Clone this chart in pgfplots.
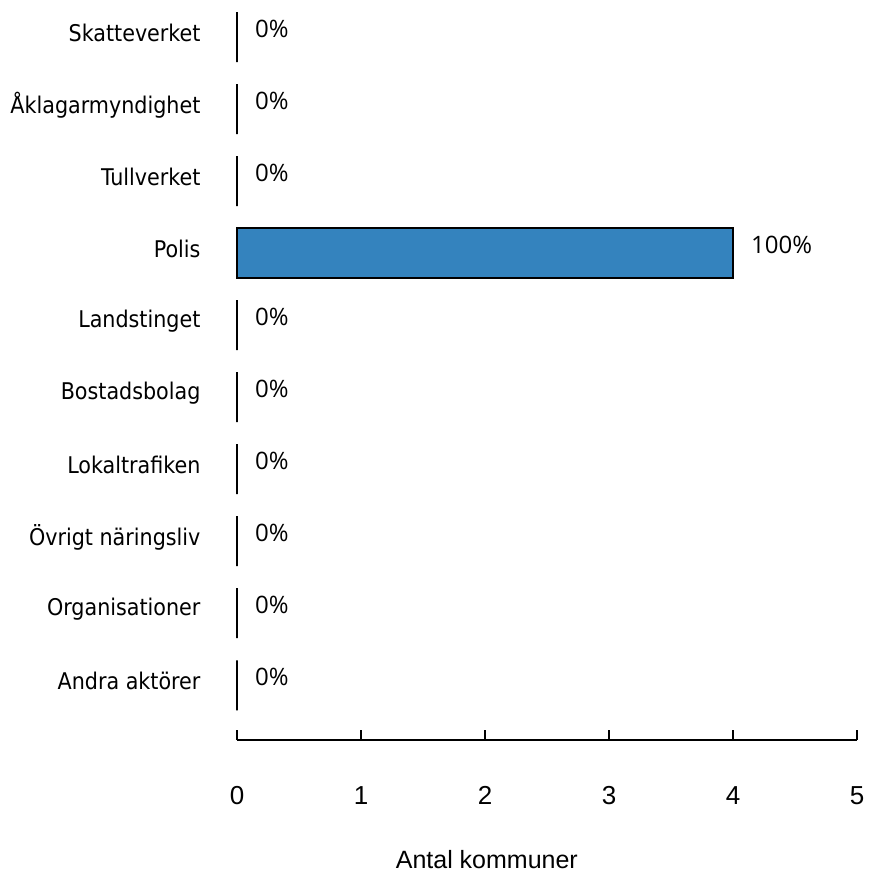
\documentclass[border=0pt]{standalone}
\usepackage{fontspec}
\setmainfont{DejaVu Sans Condensed}
\newfontfamily\numfont{Liberation Sans}
\newfontfamily\pctfont{Open Sans}
\usepackage{pgfplots}
\pgfplotsset{compat=1.18}
\definecolor{barblue}{RGB}{52,131,190}

\begin{document}
\begin{tikzpicture}
\begin{axis}[
    name=ax,
    scale only axis,
    width=620pt, height=739pt,
    xmin=0, xmax=5, ymin=-0.76, ymax=9.5,
    clip=false,
    axis x line*=bottom,
    axis y line*=left,
    y axis line style={draw=none},
    x axis line style={line width=1.5pt, -},
    xtick={0,1,2,3,4,5},
    xtick align=inside,
    major tick length=10pt,
    xtick style={line width=1.5pt, black},
    ytick style={draw=none},
    ytick={0,...,9},
    yticklabels={Andra aktörer, Organisationer, Övrigt näringsliv, Lokaltrafiken,
        Bostadsbolag, Landstinget, Polis, Tullverket, Åklagarmyndighet, Skatteverket},
    yticklabel style={font=\fontsize{23}{27}\selectfont, anchor=east, xshift=-33pt, yshift=4pt},
    xticklabel style={font=\numfont\fontsize{26}{31}\selectfont, yshift=-43pt},
    /pgf/number format/assume math mode=true,
    xlabel={Antal kommuner},
    xlabel style={font=\numfont\fontsize{25}{30}\selectfont, at={(rel axis cs:0.403,0)}, anchor=center, yshift=-120pt},
]
\addplot[xbar, bar width=50pt, fill=barblue, draw=black, line width=1.5pt,
    point meta=explicit symbolic,
    nodes near coords,
    nodes near coords style={font=\pctfont\fontsize{24}{29}\selectfont, anchor=west, xshift=14pt, yshift=8pt}]
    coordinates {
    (0,9) [0\%]
    (0,8) [0\%]
    (0,7) [0\%]
    (4,6) [100\%]
    (0,5) [0\%]
    (0,4) [0\%]
    (0,3) [0\%]
    (0,2) [0\%]
    (0,1) [0\%]
    (0,0) [0\%]
    };
\end{axis}
\pgfresetboundingbox
\path[use as bounding box] ([xshift=-237pt,yshift=-137pt]ax.south west) rectangle ([xshift=12pt,yshift=1pt]ax.north east);
\end{tikzpicture}
\end{document}
